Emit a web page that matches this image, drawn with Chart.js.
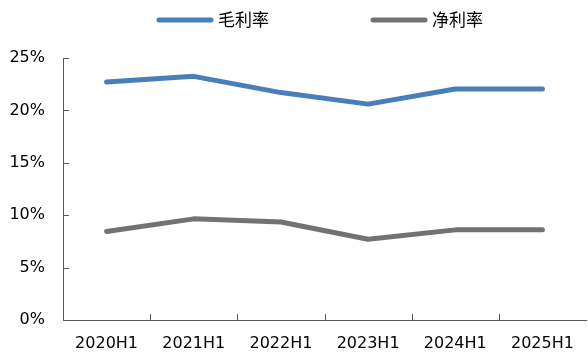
<!DOCTYPE html>
<html><head><meta charset="utf-8">
<script src="https://cdn.jsdelivr.net/npm/chart.js@4"></script>
<style>html,body{margin:0;padding:0;background:#fff}#wrap{width:588px;height:359px}</style>
</head><body><div id="wrap"><canvas id="c"></canvas></div>
<script>
const categories = ['2020H1','2021H1','2022H1','2023H1','2024H1','2025H1'];
const grossMargin = [22.7, 23.25, 21.7, 20.6, 22.05, 22.05];
const netMargin = [8.45, 9.65, 9.35, 7.7, 8.6, 8.6];
const seriesNames = ['毛利率','净利率'];
const yTicks = [0,5,10,15,20,25];

const innerTicks = {
  id:'innerTicks',
  afterDatasetsDraw(chart){
    const ctx = chart.ctx, x = chart.scales.x, y = chart.scales.y;
    ctx.save();
    ctx.strokeStyle = '#595959'; ctx.lineWidth = 1;
    yTicks.forEach(v=>{
      const py = Math.round(y.getPixelForValue(v))+0.5;
      ctx.beginPath(); ctx.moveTo(x.left, py); ctx.lineTo(x.left+6, py); ctx.stroke();
    });
    const step = x.getPixelForValue(1)-x.getPixelForValue(0);
    for(let i=1;i<categories.length;i++){
      const px = Math.round(x.getPixelForValue(i)-step/2)+0.5;
      ctx.beginPath(); ctx.moveTo(px, y.bottom); ctx.lineTo(px, y.bottom-6); ctx.stroke();
    }
    ctx.restore();
  }
};
const customLegend = {
  id:'customLegend',
  afterDraw(chart){
    const ctx = chart.ctx;
    const starts = [157, 371];
    ctx.save();
    chart.data.datasets.forEach((ds,i)=>{
      const x0 = starts[i], yy = 20;
      ctx.strokeStyle = ds.borderColor; ctx.lineWidth = 5; ctx.lineCap='round';
      ctx.beginPath(); ctx.moveTo(x0+2, yy); ctx.lineTo(x0+54, yy); ctx.stroke();
      ctx.fillStyle = '#000'; ctx.font = '17px "Noto Sans CJK SC"'; ctx.textBaseline='middle'; ctx.textAlign='left';
      ctx.fillText(ds.label, x0+61, yy);
    });
    ctx.restore();
  }
};

new Chart(document.getElementById('c'), {
  type:'line',
  data:{
    labels: categories,
    datasets:[
      {label:seriesNames[0], data:grossMargin, borderColor:'#4a7ebb', backgroundColor:'#4a7ebb', borderWidth:5, pointRadius:0, borderCapStyle:'round', borderJoinStyle:'round', tension:0},
      {label:seriesNames[1], data:netMargin, borderColor:'#767171', backgroundColor:'#767171', borderWidth:5, pointRadius:0, borderCapStyle:'round', borderJoinStyle:'round', tension:0}
    ]
  },
  options:{
    responsive:true, maintainAspectRatio:false, animation:false,
    layout:{padding:{top:58, right:1, left:0, bottom:0}},
    plugins:{legend:{display:false}, tooltip:{enabled:false}},
    scales:{
      x:{
        offset:true,
        grid:{display:false, drawTicks:false},
        border:{display:true, color:'#595959', width:1},
        ticks:{color:'#000', font:{family:'DejaVu Sans', size:16}, padding:14, maxRotation:0, autoSkip:false},
        afterFit(s){ s.height = 39; }
      },
      y:{
        min:0, max:25,
        grid:{display:false, drawTicks:false},
        border:{display:true, color:'#595959', width:1},
        ticks:{stepSize:5, color:'#000', font:{family:'DejaVu Sans', size:16}, padding:18, callback:v=>v+'%'},
        afterFit(s){ s.width = 63; }
      }
    }
  },
  plugins:[innerTicks, customLegend]
});
</script></body></html>
